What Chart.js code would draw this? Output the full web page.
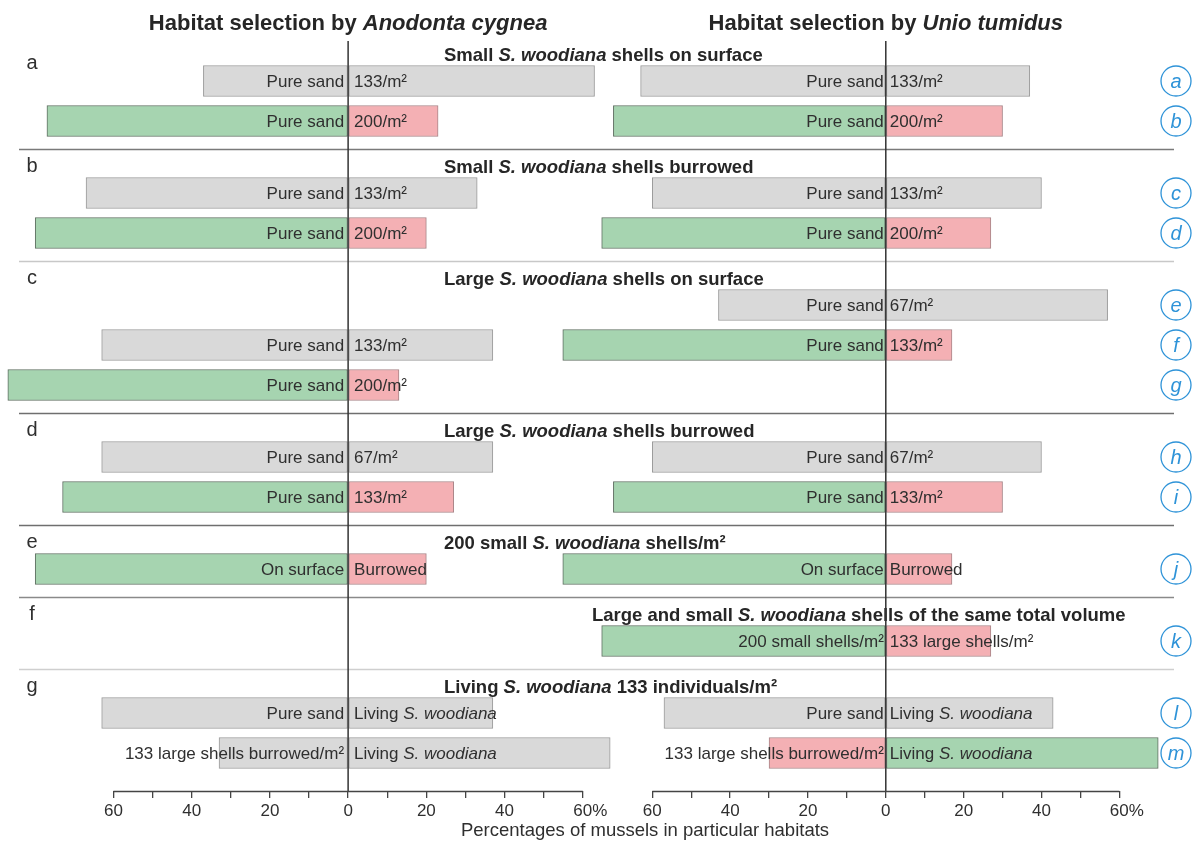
<!DOCTYPE html>
<html>
<head>
<meta charset="utf-8">
<title>Habitat selection by Anodonta cygnea and Unio tumidus</title>
<script src="https://cdn.jsdelivr.net/npm/chart.js@4.4.1/dist/chart.umd.min.js"></script>
<style>
  html, body { margin: 0; padding: 0; background: #fff; }
  #wrap { position: relative; width: 1193px; height: 841px; overflow: hidden; }
  #wrap canvas { position: absolute; left: 0; top: 0; }
</style>
</head>
<body>
<div id="wrap">
  <canvas id="chartAnodonta" width="1193" height="841"></canvas>
  <canvas id="chartUnio" width="1193" height="841"></canvas>
</div>
<script>
// ---- experiments (panels a–g) and the trials (rows a–m) inside them ----
const experiments = ['a', 'b', 'c', 'd', 'e', 'f', 'g'];
const experimentTitles = [
  'Small *S. woodiana* shells on surface',
  'Small *S. woodiana* shells burrowed',
  'Large *S. woodiana* shells on surface',
  'Large *S. woodiana* shells burrowed',
  '200 small *S. woodiana* shells/m²',
  'Large and small *S. woodiana* shells of the same total volume',
  'Living *S. woodiana* 133 individuals/m²'
];
const trialsPerExperiment = [2, 2, 3, 2, 1, 1, 2];
const trials = ['a', 'b', 'c', 'd', 'e', 'f', 'g', 'h', 'i', 'j', 'k', 'l', 'm'];

// ---- percentages of mussels in the left-hand / right-hand habitat ----
const anodontaLeft  = [37, 77, 67, 80, null, 63, 87, 63, 73, 80, null, 63, 33];
const anodontaRight = [63, 23, 33, 20, null, 37, 13, 37, 27, 20, null, 37, 67];
const unioLeft      = [63, 70, 60, 73, 43, 83, null, 60, 70, 83, 73, 57, 30];
const unioRight     = [37, 30, 40, 27, 57, 17, null, 40, 30, 17, 27, 43, 70];

// ---- habitat names written on the bars ----
const anodontaLeftText = ['Pure sand', 'Pure sand', 'Pure sand', 'Pure sand', '', 'Pure sand', 'Pure sand',
  'Pure sand', 'Pure sand', 'On surface', '', 'Pure sand', '133 large shells burrowed/m²'];
const anodontaRightText = ['133/m²', '200/m²', '133/m²', '200/m²', '', '133/m²', '200/m²',
  '67/m²', '133/m²', 'Burrowed', '', 'Living *S. woodiana*', 'Living *S. woodiana*'];
const unioLeftText = ['Pure sand', 'Pure sand', 'Pure sand', 'Pure sand', 'Pure sand', 'Pure sand', '',
  'Pure sand', 'Pure sand', 'On surface', '200 small shells/m²', 'Pure sand', '133 large shells burrowed/m²'];
const unioRightText = ['133/m²', '200/m²', '133/m²', '200/m²', '67/m²', '133/m²', '',
  '67/m²', '133/m²', 'Burrowed', '133 large shells/m²', 'Living *S. woodiana*', 'Living *S. woodiana*'];

// ---- axis tick values ----
const tickValues = [-60, -50, -40, -30, -20, -10, 0, 10, 20, 30, 40, 50, 60];
const axisTitle = 'Percentages of mussels in particular habitats';

// ---- styling ----
const FONT = '"Liberation Sans", Arial, Helvetica, sans-serif';
const INK = '#2f2f2f';
const BLUE = '#2e93d8';
const FILL = { sand: '#d9d9d9', shells: '#a6d4b0', other: '#f4b0b4' };
const EDGE = { sand: '#9a9a9a', shells: '#5e6e61', other: '#a88588' };
const anodontaLeftFill  = ['sand', 'shells', 'sand', 'shells', null, 'sand', 'shells', 'sand', 'shells', 'shells', null, 'sand', 'sand'];
const anodontaRightFill = ['sand', 'other', 'sand', 'other', null, 'sand', 'other', 'sand', 'other', 'other', null, 'sand', 'sand'];
const unioLeftFill  = ['sand', 'shells', 'sand', 'shells', 'sand', 'shells', null, 'sand', 'shells', 'shells', 'shells', 'sand', 'other'];
const unioRightFill = ['sand', 'other', 'sand', 'other', 'sand', 'other', null, 'sand', 'other', 'other', 'other', 'sand', 'shells'];
const separatorTone = ['#7a7a7a', '#c8c8c8', '#6f6f6f', '#6f6f6f', '#8a8a8a', '#cfcfcf'];
const titleStartX = [444, 444, 444, 444, 444, 592, 444];

// ---- vertical layout in row units: rows 1 apart, an extra 0.8 for every experiment heading ----
const rowPos = [], headPos = [], sepPos = [];
(function () {
  let p = 1;
  trialsPerExperiment.forEach((n, k) => {
    if (k > 0) p += 0.8;
    headPos.push(p - 0.625);
    for (let i = 0; i < n; i++) { rowPos.push(p); p += 1; }
    if (k < trialsPerExperiment.length - 1) sepPos.push(p - 1 + 0.7);
  });
})();
const Y_MAX = rowPos[rowPos.length - 1] + 0.95;

// draws text where *...* segments are italic
function richText(ctx, text, x, y, align, size, weight, color) {
  const parts = text.split('*');
  const fonts = parts.map((_, k) => (k % 2 ? 'italic ' : '') + weight + ' ' + size + 'px ' + FONT);
  const widths = parts.map((p, k) => { ctx.font = fonts[k]; return ctx.measureText(p).width; });
  const total = widths.reduce((a, b) => a + b, 0);
  let cx = align === 'right' ? x - total : align === 'center' ? x - total / 2 : x;
  ctx.textAlign = 'left';
  ctx.textBaseline = 'middle';
  ctx.fillStyle = color;
  parts.forEach((p, k) => { ctx.font = fonts[k]; ctx.fillText(p, cx, y); cx += widths[k]; });
  return total;
}

function barDataset(values, sign, fills) {
  const data = [], bg = [], bd = [];
  values.forEach((v, i) => {
    if (v == null) return;
    data.push({ x: sign * v, y: rowPos[i] });
    bg.push(FILL[fills[i]]);
    bd.push(EDGE[fills[i]]);
  });
  return {
    data, backgroundColor: bg, borderColor: bd, borderWidth: 1,
    borderSkipped: false, barThickness: 31, grouped: false
  };
}

// zero line, axis line, bar captions
const panelDecor = {
  id: 'panelDecor',
  afterDatasetsDraw(chart, args, o) {
    const ctx = chart.ctx, xs = chart.scales.x, ys = chart.scales.y, area = chart.chartArea;
    const x0 = xs.getPixelForValue(0);
    ctx.save();
    // bar captions
    trials.forEach((t, i) => {
      const y = ys.getPixelForValue(rowPos[i]) + 1;
      if (o.leftText[i]) richText(ctx, o.leftText[i], x0 - o.gapL, y, 'right', 17, 'normal', INK);
      if (o.rightText[i]) richText(ctx, o.rightText[i], x0 + o.gapR, y, 'left', 17, 'normal', INK);
    });
    // zero line
    ctx.strokeStyle = '#333';
    ctx.lineWidth = 1.5;
    ctx.beginPath();
    ctx.moveTo(x0, area.top);
    ctx.lineTo(x0, area.bottom);
    ctx.stroke();
    // axis line between the outer ticks
    ctx.lineWidth = 1.3;
    ctx.strokeStyle = '#444';
    ctx.beginPath();
    ctx.moveTo(xs.getPixelForValue(tickValues[0]), area.bottom + 0.5);
    ctx.lineTo(xs.getPixelForValue(tickValues[tickValues.length - 1]), area.bottom + 0.5);
    ctx.stroke();
    // percent sign after the last tick label
    ctx.font = '17px ' + FONT;
    const last = tickValues[tickValues.length - 1];
    const w = ctx.measureText(String(last)).width;
    ctx.fillStyle = INK;
    ctx.textAlign = 'left';
    ctx.textBaseline = 'middle';
    ctx.fillText('%', xs.getPixelForValue(last) + w / 2, area.bottom + 20);
    // panel heading
    richText(ctx, o.heading, x0, 24, 'center', 22, 'bold', '#262626');
    ctx.restore();
  }
};

// figure-wide decoration drawn with the Anodonta chart
const figureDecor = {
  id: 'figureDecor',
  beforeDatasetsDraw(chart) {
    const ctx = chart.ctx, ys = chart.scales.y;
    ctx.save();
    sepPos.forEach((p, k) => {
      const y = Math.round(ys.getPixelForValue(p)) + 0.5;
      ctx.strokeStyle = separatorTone[k];
      ctx.lineWidth = 1.5;
      ctx.beginPath();
      ctx.moveTo(19, y);
      ctx.lineTo(1174, y);
      ctx.stroke();
    });
    ctx.restore();
  },
  afterDatasetsDraw(chart) {
    const ctx = chart.ctx, ys = chart.scales.y;
    ctx.save();
    experiments.forEach((e, k) => {
      const y = ys.getPixelForValue(headPos[k]);
      ctx.font = '20px ' + FONT;
      ctx.fillStyle = INK;
      ctx.textAlign = 'center';
      ctx.textBaseline = 'middle';
      ctx.fillText(e, 32, y + (k === 0 ? 7 : -2));
      richText(ctx, experimentTitles[k], titleStartX[k], y, 'left', 18.5, 'bold', '#262626');
    });
    ctx.font = '18.5px ' + FONT;
    ctx.fillStyle = INK;
    ctx.textAlign = 'center';
    ctx.textBaseline = 'middle';
    ctx.fillText(axisTitle, 645, 831);
    ctx.restore();
  }
};

// circled trial letters on the right margin
const trialMarks = {
  id: 'trialMarks',
  afterDatasetsDraw(chart) {
    const ctx = chart.ctx, ys = chart.scales.y;
    ctx.save();
    trials.forEach((t, i) => {
      const y = ys.getPixelForValue(rowPos[i]);
      ctx.strokeStyle = BLUE;
      ctx.lineWidth = 1.3;
      ctx.beginPath();
      ctx.arc(1176, y, 15, 0, Math.PI * 2);
      ctx.stroke();
      ctx.font = 'italic 20px ' + FONT;
      ctx.fillStyle = BLUE;
      ctx.textAlign = 'center';
      ctx.textBaseline = 'middle';
      ctx.fillText(t, 1176, y + 1);
    });
    ctx.restore();
  }
};

function panelChart(canvasId, cfg) {
  return new Chart(document.getElementById(canvasId), {
    type: 'bar',
    data: {
      datasets: [
        barDataset(cfg.left, -1, cfg.leftFill),
        barDataset(cfg.right, 1, cfg.rightFill)
      ]
    },
    options: {
      indexAxis: 'y',
      responsive: false,
      animation: false,
      events: [],
      layout: { padding: { left: cfg.padL, right: cfg.padR, top: 41, bottom: 0 } },
      plugins: {
        legend: { display: false },
        tooltip: { enabled: false },
        panelDecor: {
          leftText: cfg.leftText, rightText: cfg.rightText,
          gapL: cfg.gapL, gapR: cfg.gapR, heading: cfg.heading
        }
      },
      scales: {
        x: {
          type: 'linear',
          min: cfg.xMin, max: cfg.xMax,
          afterBuildTicks: s => { s.ticks = tickValues.map(v => ({ value: v })); },
          afterFit: s => { s.height = 50; },
          ticks: {
            autoSkip: false, maxRotation: 0, padding: 3,
            color: INK, font: { size: 17, family: FONT },
            callback: v => (v % 20 === 0 ? String(Math.abs(v)) : '')
          },
          grid: { drawOnChartArea: false, drawTicks: true, tickLength: 7, color: '#444', lineWidth: 1.3 },
          border: { display: false }
        },
        y: {
          type: 'linear', reverse: true, offset: false, min: 0, max: Y_MAX, display: false,
          grid: { offset: false }
        }
      }
    },
    plugins: cfg.plugins
  });
}

panelChart('chartAnodonta', {
  left: anodontaLeft, right: anodontaRight,
  leftFill: anodontaLeftFill, rightFill: anodontaRightFill,
  leftText: anodontaLeftText, rightText: anodontaRightText,
  heading: 'Habitat selection by *Anodonta cygnea*',
  xMin: -89, xMax: 69, padL: 0, padR: 575, gapL: 4, gapR: 6,
  plugins: [figureDecor, panelDecor]
});

panelChart('chartUnio', {
  left: unioLeft, right: unioRight,
  leftFill: unioLeftFill, rightFill: unioRightFill,
  leftText: unioLeftText, rightText: unioRightText,
  heading: 'Habitat selection by *Unio tumidus*',
  xMin: -85, xMax: 72, padL: 555, padR: 27, gapL: 2, gapR: 4,
  plugins: [panelDecor, trialMarks]
});
</script>
</body>
</html>
